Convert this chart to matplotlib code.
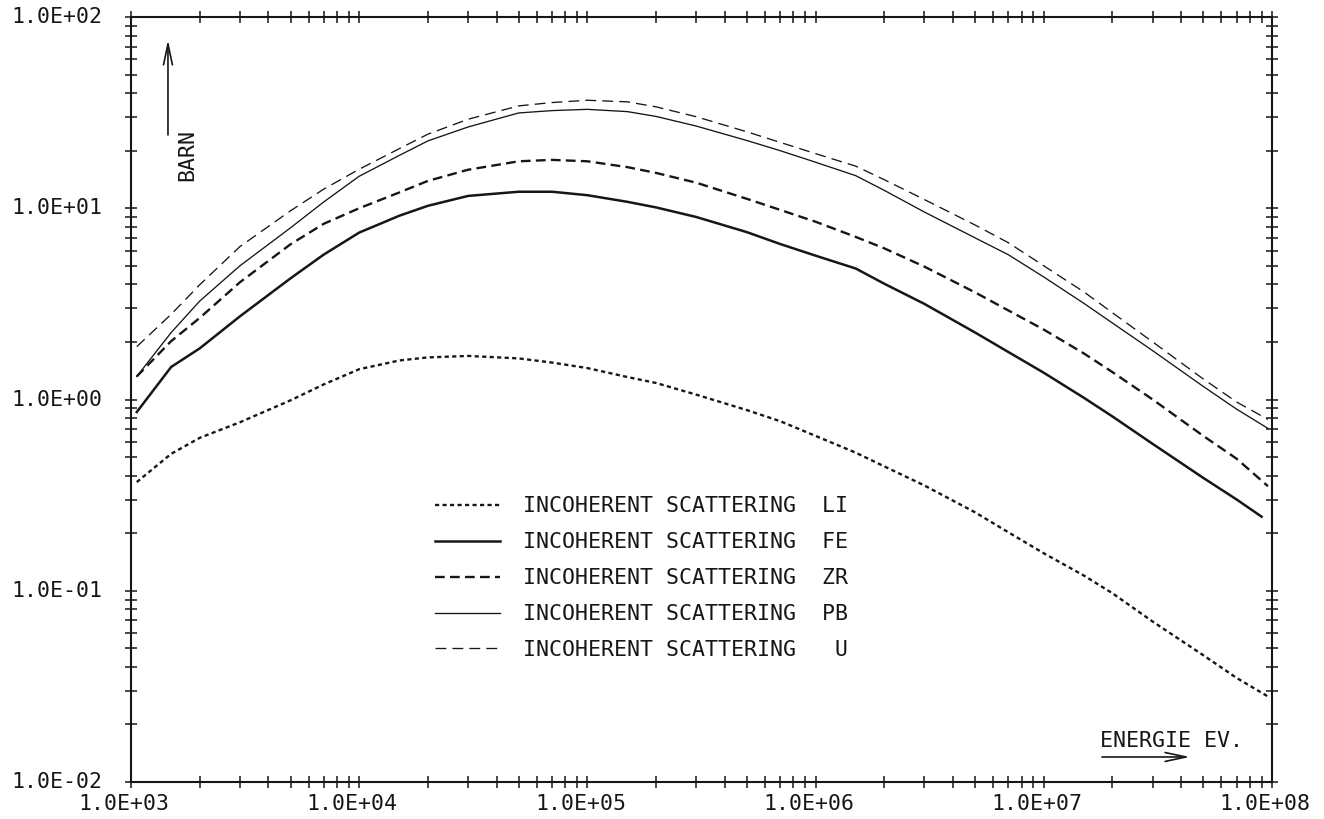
import matplotlib
matplotlib.use("Agg")
import matplotlib.pyplot as plt
from matplotlib.ticker import LogLocator, NullFormatter
from matplotlib.transforms import offset_copy

plt.rcParams['lines.scale_dashes'] = False
plt.rcParams['font.family'] = ['DejaVu Sans Mono']

# energie (eV) und wirkungsquerschnitte (barn)
energy = [1.06e3, 1.5e3, 2e3, 3e3, 5e3, 7e3, 1e4, 1.5e4, 2e4, 3e4, 5e4, 7e4,
          1e5, 1.5e5, 2e5, 3e5, 5e5, 7e5, 1e6, 1.5e6, 2e6, 3e6, 5e6, 7e6,
          1e7, 1.5e7, 2e7, 3e7, 5e7, 7e7, 9.6e7]
energy_fe = energy[:-1] + [9.0e7]

li = [0.37, 0.52, 0.63, 0.76, 0.99, 1.20, 1.44, 1.60, 1.66, 1.69, 1.64, 1.56,
      1.46, 1.31, 1.22, 1.06, 0.88, 0.77, 0.645, 0.527, 0.447, 0.355, 0.257, 0.202,
      0.157, 0.12, 0.097, 0.069, 0.046, 0.035, 0.028]
fe = [0.86, 1.48, 1.85, 2.72, 4.30, 5.73, 7.46, 9.14, 10.3, 11.6, 12.2, 12.2,
      11.7, 10.8, 10.1, 9.0, 7.5, 6.5, 5.65, 4.84, 4.03, 3.16, 2.24, 1.77,
      1.38, 1.02, 0.815, 0.586, 0.389, 0.30, 0.244]
zr = [1.32, 2.02, 2.67, 4.10, 6.48, 8.3, 10.0, 12.1, 13.9, 15.9, 17.6, 17.9,
      17.6, 16.4, 15.3, 13.6, 11.2, 9.8, 8.5, 7.08, 6.17, 4.95, 3.63, 2.92,
      2.32, 1.74, 1.39, 1.0, 0.645, 0.49, 0.352]
pb = [1.32, 2.24, 3.27, 5.0, 7.9, 10.8, 14.7, 18.9, 22.5, 26.6, 31.5, 32.4,
      32.9, 32.0, 30.2, 26.9, 22.6, 20.0, 17.4, 14.8, 12.4, 9.55, 7.0, 5.71,
      4.37, 3.18, 2.51, 1.80, 1.17, 0.89, 0.706]
u = [1.89, 2.79, 3.98, 6.3, 9.7, 12.6, 16.0, 20.5, 24.4, 29.2, 34.3, 35.7,
     36.7, 36.0, 33.9, 30.1, 25.1, 22.1, 19.3, 16.6, 14.1, 11.1, 8.17, 6.6,
     5.0, 3.65, 2.84, 2.0, 1.28, 0.97, 0.787]

labels = ["INCOHERENT SCATTERING  LI", "INCOHERENT SCATTERING  FE",
          "INCOHERENT SCATTERING  ZR", "INCOHERENT SCATTERING  PB",
          "INCOHERENT SCATTERING   U"]
x_ticklabels = ["1.0E+03", "1.0E+04", "1.0E+05", "1.0E+06", "1.0E+07", "1.0E+08"]
y_ticklabels = ["1.0E-02", "1.0E-01", "1.0E+00", "1.0E+01", "1.0E+02"]
x_major = [1e3, 1e4, 1e5, 1e6, 1e7, 1e8]
y_major = [1e-2, 1e-1, 1e0, 1e1, 1e2]

ink = '#161616'
fs = 15.5

fig = plt.figure(figsize=(13.24, 8.19), dpi=100)
ax = fig.add_axes([131 / 1324, 1 - 782 / 819, 1141 / 1324, 765 / 819])

ax.plot(energy, li, color=ink, lw=1.7, dashes=(3.0, 2.4), label=labels[0])
ax.plot(energy_fe, fe, color=ink, lw=1.8, label=labels[1])
ax.plot(energy, zr, color=ink, lw=1.7, dashes=(7.0, 3.8), label=labels[2])
ax.plot(energy, pb, color=ink, lw=0.95, label=labels[3])
ax.plot(energy, u, color=ink, lw=0.95, dashes=(7.8, 4.4), label=labels[4])

ax.set_xscale('log')
ax.set_yscale('log')
ax.set_xlim(1e3, 1e8)
ax.set_ylim(1e-2, 1e2)

for axis in (ax.xaxis, ax.yaxis):
    axis.set_major_locator(LogLocator(base=10))
    axis.set_minor_locator(LogLocator(base=10, subs=range(2, 10)))
    axis.set_major_formatter(NullFormatter())
    axis.set_minor_formatter(NullFormatter())
ax.tick_params(which='both', direction='inout', length=8, width=1.1, color=ink,
               top=True, right=True, bottom=True, left=True)
for sp in ax.spines.values():
    sp.set_linewidth(1.5)
    sp.set_color(ink)

# beschriftung der achsen
tx = offset_copy(ax.get_xaxis_transform(), fig=fig, x=-7, y=0, units='dots')
for xv, lab in zip(x_major, x_ticklabels):
    ax.text(xv, -0.0288, lab, transform=tx, ha='center', va='center',
            fontsize=fs, color=ink, clip_on=False)
for yv, lab in zip(y_major, y_ticklabels):
    ax.text(-0.0254, yv, lab, transform=ax.get_yaxis_transform(), ha='right',
            va='center', fontsize=fs, color=ink, clip_on=False)

ax.text(0.0491, 0.8196, "BARN", transform=ax.transAxes, rotation=90,
        ha='center', va='center', fontsize=fs, color=ink)
ax.annotate('', xy=(0.0324, 0.970), xytext=(0.0324, 0.8458), xycoords='axes fraction',
            arrowprops=dict(arrowstyle='->,head_length=1.5,head_width=0.32',
                            lw=1.2, color=ink, shrinkA=0, shrinkB=0))
ax.text(0.8493, 0.0536, "ENERGIE EV.", transform=ax.transAxes,
        ha='left', va='center', fontsize=fs, color=ink)
ax.annotate('', xy=(0.9281, 0.0327), xytext=(0.8510, 0.0327), xycoords='axes fraction',
            arrowprops=dict(arrowstyle='->,head_length=1.5,head_width=0.32',
                            lw=1.2, color=ink, shrinkA=0, shrinkB=0))

leg = ax.legend(loc='upper left', bbox_to_anchor=(0.2664, 0.3735), frameon=False,
                prop={'size': fs}, handlelength=3.0, handletextpad=1.07,
                labelspacing=0.74, borderpad=0, borderaxespad=0)
for t in leg.get_texts():
    t.set_color(ink)

fig.savefig('out.png', dpi=100)
